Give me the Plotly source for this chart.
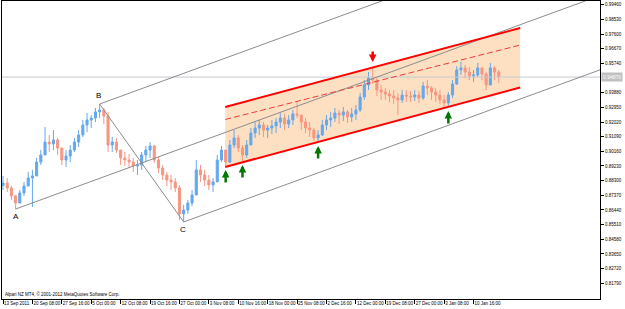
import plotly.graph_objects as go

# ---------------- data ----------------
bar_index = list(range(119))
high = [0.8860,0.8847,0.8796,0.8739,0.8771,0.8822,0.8885,0.8898,0.8974,0.9024,
        0.9170,0.9120,0.9151,0.9101,0.9037,0.9024,0.9056,0.9101,0.9151,0.9215,
        0.9259,0.9246,0.9291,0.9316,0.9291,0.9266,0.9107,0.9101,0.9024,0.9012,
        0.8999,0.8974,0.8961,0.9012,0.9050,0.9075,0.9056,0.8980,0.8929,0.8885,
        0.8866,0.8847,0.8803,0.8676,0.8707,0.8771,0.8961,0.8929,0.8898,0.8866,
        0.8847,0.8993,0.9050,0.9024,0.9088,0.9151,0.9120,0.9056,0.9088,0.9164,
        0.9202,0.9215,0.9202,0.9183,0.9215,0.9227,0.9259,0.9253,0.9246,0.9278,
        0.9329,0.9246,0.9227,0.9202,0.9164,0.9151,0.9215,0.9246,0.9266,0.9291,
        0.9278,0.9297,0.9278,0.9291,0.9310,0.9386,0.9468,0.9519,0.9551,0.9481,
        0.9437,0.9418,0.9405,0.9405,0.9386,0.9405,0.9405,0.9399,0.9405,0.9399,
        0.9456,0.9468,0.9430,0.9418,0.9405,0.9373,0.9392,0.9468,0.9557,0.9583,
        0.9564,0.9551,0.9532,0.9576,0.9545,0.9519,0.9576,0.9557,0.9532]
low = [0.8771,0.8758,0.8707,0.8650,0.8688,0.8733,0.8796,0.8663,0.8866,0.8929,
       0.9024,0.9012,0.9024,0.8993,0.8929,0.8917,0.8948,0.9012,0.9043,0.9107,
       0.9139,0.9164,0.9202,0.9227,0.9189,0.9012,0.9012,0.9005,0.8929,0.8923,
       0.8910,0.8885,0.8866,0.8898,0.8948,0.8974,0.8942,0.8879,0.8834,0.8796,
       0.8771,0.8758,0.8580,0.8568,0.8619,0.8669,0.8739,0.8822,0.8796,0.8771,
       0.8758,0.8834,0.8948,0.8923,0.8942,0.9037,0.9012,0.8955,0.8974,0.9056,
       0.9101,0.9120,0.9107,0.9101,0.9126,0.9132,0.9164,0.9151,0.9164,0.9183,
       0.9227,0.9151,0.9132,0.9107,0.9082,0.9075,0.9113,0.9151,0.9170,0.9202,
       0.9189,0.9208,0.9196,0.9202,0.9215,0.9266,0.9342,0.9405,0.9443,0.9367,
       0.9342,0.9342,0.9329,0.9316,0.9246,0.9323,0.9329,0.9329,0.9335,0.9323,
       0.9342,0.9373,0.9342,0.9329,0.9316,0.9297,0.9297,0.9354,0.9437,0.9500,
       0.9481,0.9468,0.9456,0.9487,0.9468,0.9405,0.9437,0.9468,0.9449]
close = [0.8815,0.8784,0.8733,0.8688,0.8752,0.8796,0.8847,0.8860,0.8948,0.8993,
         0.9075,0.9063,0.9088,0.9037,0.8961,0.8986,0.9024,0.9075,0.9120,0.9183,
         0.9215,0.9227,0.9266,0.9278,0.9240,0.9056,0.9075,0.9024,0.8974,0.8961,
         0.8948,0.8923,0.8929,0.8993,0.9024,0.9050,0.8961,0.8910,0.8866,0.8834,
         0.8822,0.8784,0.8619,0.8644,0.8688,0.8739,0.8898,0.8866,0.8834,0.8803,
         0.8822,0.8961,0.9024,0.8948,0.9056,0.9101,0.9037,0.8993,0.9056,0.9132,
         0.9164,0.9183,0.9151,0.9164,0.9177,0.9202,0.9227,0.9189,0.9215,0.9253,
         0.9246,0.9202,0.9164,0.9151,0.9101,0.9120,0.9183,0.9215,0.9227,0.9259,
         0.9246,0.9266,0.9234,0.9253,0.9278,0.9361,0.9437,0.9481,0.9468,0.9405,
         0.9392,0.9380,0.9367,0.9354,0.9342,0.9373,0.9367,0.9361,0.9373,0.9354,
         0.9430,0.9418,0.9392,0.9373,0.9342,0.9323,0.9373,0.9443,0.9532,0.9545,
         0.9519,0.9494,0.9500,0.9545,0.9507,0.9437,0.9545,0.9519,0.9487]
first_open = 0.8800
open_ = [first_open] + close[:-1]

x_tick_vals = [0, 7, 14, 21, 28, 35, 42, 49, 56, 63, 70, 77, 84, 91, 98, 105, 112]
x_tick_text = ["13 Sep 2011", "20 Sep 08:00", "27 Sep 16:00", "5 Oct 00:00", "12 Oct 08:00",
               "19 Oct 16:00", "27 Oct 00:00", "3 Nov 08:00", "10 Nov 16:00", "18 Nov 00:00",
               "25 Nov 08:00", "2 Dec 16:00", "12 Dec 00:00", "19 Dec 08:00", "27 Dec 00:00",
               "3 Jan 08:00", "10 Jan 16:00"]
y_tick_vals = [0.8179, 0.8272, 0.8365, 0.8458, 0.8551, 0.8644, 0.8737, 0.8830, 0.8923, 0.9016,
               0.9109, 0.9202, 0.9295, 0.9388, 0.9574, 0.9667, 0.9760, 0.9853, 0.9946]
current_price = 0.9487

# pitchfork pivots (bar indices): A low, B high, C low
pivot_a, pivot_b, pivot_c = 3, 23, 43
pivot_names = ["A", "B", "C"]

# channel (bar index start/end, price start/end)
chan_x = [52.9, 123.1]
chan_lower = [0.8917, 0.9421]
chan_upper = [0.9297, 0.9798]
chan_mid = [0.9218, 0.9690]

arrow_up_idx = [53, 57, 75, 106]
arrow_down_idx = [88]

x_range = [-0.24, 142.1]
y_range = [0.80794, 0.99695]

# ---------------- figure ----------------
BLUE = "rgb(100,168,238)"
SALMON = "rgb(248,150,128)"
GRAY = "rgb(140,140,140)"
FONT = "Liberation Sans"

fig = go.Figure()

# channel fill as a shape below the traces
fill_path = (f"M {chan_x[0]},{chan_lower[0]} L {chan_x[1]},{chan_lower[1]} "
             f"L {chan_x[1]},{chan_upper[1]} L {chan_x[0]},{chan_upper[0]} Z")
shapes = [dict(type="path", path=fill_path, xref="x", yref="y", layer="below",
               fillcolor="rgb(253,224,194)", line=dict(width=0))]

# current price line
fig.add_trace(go.Scatter(x=[x_range[0], x_range[1]], y=[current_price, current_price],
                         mode="lines", line=dict(color="rgb(195,200,208)", width=1),
                         hoverinfo="skip", showlegend=False))

# price candles
fig.add_trace(go.Candlestick(
    x=bar_index, open=open_, high=high, low=low, close=close,
    increasing=dict(line=dict(color=BLUE, width=1), fillcolor=BLUE),
    decreasing=dict(line=dict(color=SALMON, width=1), fillcolor=SALMON),
    whiskerwidth=0, hoverinfo="skip", showlegend=False))

# pitchfork
ax_, ay_ = pivot_a, low[pivot_a]
bx_, by_ = pivot_b, high[pivot_b]
cx_, cy_ = pivot_c, low[pivot_c]
mx_, my_ = (bx_ + cx_) / 2, (by_ + cy_) / 2
slope = (my_ - ay_) / (mx_ - ax_)
xe = 150
for (px0, py0) in [(ax_, ay_), (bx_, by_), (cx_, cy_)]:
    fig.add_trace(go.Scatter(x=[px0, xe], y=[py0, py0 + slope * (xe - px0)], mode="lines",
                             line=dict(color=GRAY, width=1), hoverinfo="skip", showlegend=False))
fig.add_trace(go.Scatter(x=[bx_, cx_], y=[by_, cy_], mode="lines",
                         line=dict(color=GRAY, width=1), hoverinfo="skip", showlegend=False))

# channel lines
fig.add_trace(go.Scatter(x=chan_x, y=chan_lower, mode="lines", line=dict(color="red", width=2),
                         hoverinfo="skip", showlegend=False))
fig.add_trace(go.Scatter(x=chan_x, y=chan_upper, mode="lines", line=dict(color="red", width=2),
                         hoverinfo="skip", showlegend=False))
fig.add_trace(go.Scatter(x=chan_x, y=chan_mid, mode="lines",
                         line=dict(color="rgb(235,60,60)", width=1, dash="6px,3px"),
                         hoverinfo="skip", showlegend=False))

annotations = []
for i in arrow_up_idx:
    annotations.append(dict(x=i, y=low[i], xref="x", yref="y", text="", showarrow=True,
                            ax=0, ay=18, standoff=4, arrowhead=2, arrowsize=0.6,
                            arrowwidth=2.5, arrowcolor="rgb(0,120,0)"))
for i in arrow_down_idx:
    annotations.append(dict(x=i, y=high[i], xref="x", yref="y", text="", showarrow=True,
                            ax=0, ay=-17, standoff=5, arrowhead=2, arrowsize=0.6,
                            arrowwidth=2.5, arrowcolor="red"))

# pivot labels
annotations.append(dict(x=ax_, y=ay_, text=pivot_names[0], showarrow=False, yanchor="top",
                        yshift=-1, font=dict(size=8, color="black", family=FONT)))
annotations.append(dict(x=bx_, y=by_, text=pivot_names[1], showarrow=False, yanchor="bottom",
                        yshift=2, xshift=-1, font=dict(size=8, color="black", family=FONT)))
annotations.append(dict(x=cx_, y=cy_, text=pivot_names[2], showarrow=False, yanchor="top",
                        yshift=-1, xshift=-1, font=dict(size=8, color="black", family=FONT)))

# copyright text
annotations.append(dict(x=0.002, y=0.0, xref="paper", yref="paper", xanchor="left",
                        yanchor="bottom", text="Alpari NZ MT4, © 2001-2012 MetaQuotes Software Corp.",
                        showarrow=False, font=dict(size=4.5, color="black", family=FONT)))

# current price label
annotations.append(dict(x=1.0, y=current_price, xref="paper", yref="y", xanchor="left",
                        yanchor="middle", text=f"{current_price:.5f}", showarrow=False,
                        bgcolor="rgb(192,192,192)", borderpad=1, xshift=1,
                        font=dict(size=5, color="white", family=FONT)))

fig.update_layout(
    width=625, height=309,
    margin=dict(l=2, r=25, t=1, b=10),
    paper_bgcolor="white", plot_bgcolor="white",
    showlegend=False,
    annotations=annotations,
    shapes=shapes,
    xaxis=dict(range=x_range, tickvals=x_tick_vals, ticktext=x_tick_text,
               ticks="outside", ticklen=4, tickcolor="black", tickwidth=1,
               ticklabelposition="outside right", tickangle=0,
               showgrid=False, zeroline=False, showline=True, linecolor="black",
               linewidth=1, mirror=True, rangeslider=dict(visible=False),
               tickfont=dict(size=4.5, color="black", family=FONT), fixedrange=True),
    yaxis=dict(range=y_range, side="right", tickvals=y_tick_vals, tickformat=".5f",
               ticks="outside", ticklen=3, tickcolor="black", tickwidth=1,
               showgrid=False, zeroline=False, showline=True, linecolor="black",
               linewidth=1, mirror=True,
               tickfont=dict(size=4.5, color="black", family=FONT), fixedrange=True),
)

fig.write_html("out.html")
